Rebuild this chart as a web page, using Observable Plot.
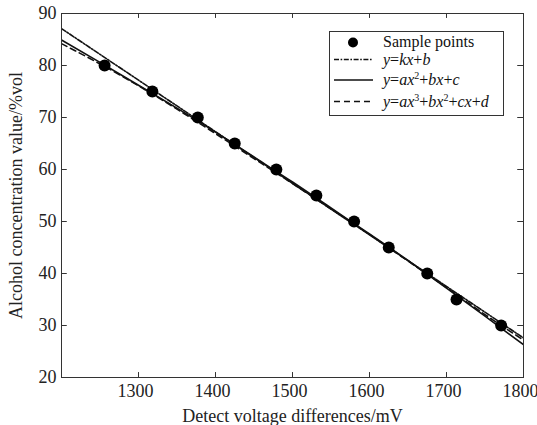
<!DOCTYPE html>
<html>
<head>
<meta charset="utf-8">
<script src="https://cdn.jsdelivr.net/npm/d3@7"></script>
<script src="https://cdn.jsdelivr.net/npm/@observablehq/plot@0.6"></script>
<style>
  html, body { margin: 0; padding: 0; background: #fff; }
  #chart { width: 537px; height: 425px; }
</style>
</head>
<body>
<div id="chart"></div>
<script>
// Sample points
const sampleX = [1256, 1318, 1377, 1425, 1479, 1531, 1580, 1625, 1675, 1713, 1771];
const sampleY = [80, 75, 70, 65, 60, 55, 50, 45, 40, 35, 30];

// Fitted curves, values
const linX = [1200, 1800];
const linY = [87.1, 27.6];

const curveX = [1200, 1250, 1300, 1350, 1400, 1450, 1500, 1550, 1600, 1650, 1700, 1750, 1800];
const quadY  = [84.9, 80.6, 76.2, 71.8, 67.2, 62.4, 57.6, 52.6, 47.6, 42.5, 37.2, 31.8, 26.3];
const cubicY = [84.2, 80.3, 76.1, 71.6, 66.9, 62.1, 57.3, 52.4, 47.5, 42.4, 37.3, 32.1, 27.2];

const xTicks = [1300, 1400, 1500, 1600, 1700, 1800];
const yTicks = [20, 30, 40, 50, 60, 70, 80, 90];

const xLabel = "Detect voltage differences/mV";
const yLabel = "Alcohol concentration value/%vol";
const legendPoints = "Sample points";
// legend formula parts: [text, kind] kind 1 = italic, 0 = upright, 2 = superscript
const legendLinear = [["y", 1], ["=", 0], ["kx", 1], ["+", 0], ["b", 1]];
const legendQuad = [["y", 1], ["=", 0], ["ax", 1], ["2", 2], ["+", 0], ["bx", 1], ["+", 0], ["c", 1]];
const legendCubic = [["y", 1], ["=", 0], ["ax", 1], ["3", 2], ["+", 0], ["bx", 1], ["2", 2], ["+", 0], ["cx", 1], ["+", 0], ["d", 1]];

const points = sampleX.map((x, i) => ({x, y: sampleY[i]}));
const lin = linX.map((x, i) => ({x, y: linY[i]}));
const quad = curveX.map((x, i) => ({x, y: quadY[i]}));
const cubic = curveX.map((x, i) => ({x, y: cubicY[i]}));

const W = 537, H = 425;
const mL = 61, mR = 14, mT = 13, mB = 48;
const FONT = "'Liberation Serif', 'Times New Roman', serif";

const chart = Plot.plot({
  width: W,
  height: H,
  marginLeft: mL,
  marginRight: mR,
  marginTop: mT,
  marginBottom: mB,
  style: {fontFamily: FONT, fontSize: "18px", color: "#222", background: "#fff", overflow: "visible"},
  x: {domain: [1200, 1800]},
  y: {domain: [20, 90]},
  marks: [
    Plot.line(lin, {x: "x", y: "y", stroke: "#111", strokeWidth: 1.6, strokeDasharray: "5,1.6,1.6,1.6", clip: true}),
    Plot.line(quad, {x: "x", y: "y", stroke: "#111", strokeWidth: 1.6, curve: "natural", clip: true}),
    Plot.line(cubic, {x: "x", y: "y", stroke: "#111", strokeWidth: 1.6, strokeDasharray: "6,4", curve: "natural", clip: true}),
    Plot.dot(points, {x: "x", y: "y", r: 6, fill: "#000", stroke: "none"}),
    // inward ticks
    Plot.ruleX(xTicks, {x: d => d, y1: 20, y2: 20.95, stroke: "#333"}),
    Plot.ruleX(xTicks, {x: d => d, y1: 90, y2: 89.05, stroke: "#333"}),
    Plot.ruleY(yTicks, {y: d => d, x1: 1200, x2: 1207.5, stroke: "#333"}),
    Plot.ruleY(yTicks, {y: d => d, x1: 1800, x2: 1792.5, stroke: "#333"}),
    Plot.axisX({ticks: xTicks, tickFormat: "d", tickSize: 0, tickPadding: 7, dx: -3, label: null, fontSize: 18}),
    Plot.axisX({ticks: [], label: xLabel, labelAnchor: "center", labelOffset: 44, labelArrow: "none", fontSize: 18}),
    Plot.axisY({ticks: yTicks, tickFormat: "d", tickSize: 0, tickPadding: 5, label: yLabel, labelAnchor: "center", labelOffset: 52, labelArrow: "none", fontSize: 18}),
    Plot.frame({stroke: "#333", strokeWidth: 1})
  ]
});

document.getElementById("chart").appendChild(chart);

// Legend drawn inside the SVG
const svg = d3.select(chart);
const g = svg.append("g")
  .attr("font-family", FONT).attr("font-size", 16).attr("fill", "#111")
  .attr("text-anchor", "start");
g.append("rect").attr("x", 329.5).attr("y", 31.5).attr("width", 174).attr("height", 84)
  .attr("fill", "#fff").attr("stroke", "#333").attr("stroke-width", 1);
g.append("circle").attr("cx", 353).attr("cy", 42.5).attr("r", 5).attr("fill", "#000");
g.append("text").attr("x", 383).attr("y", 47).text(legendPoints);

const rows = [
  {y: 59.5, dash: "5,1.6,1.6,1.6", parts: legendLinear},
  {y: 80, dash: null, parts: legendQuad},
  {y: 101.5, dash: "6,4", parts: legendCubic}
];
for (const r of rows) {
  const ln = g.append("line").attr("x1", 334).attr("x2", 373).attr("y1", r.y).attr("y2", r.y)
    .attr("stroke", "#111").attr("stroke-width", 1.6);
  if (r.dash) ln.attr("stroke-dasharray", r.dash);
  const t = g.append("text").attr("x", 383).attr("y", r.y + 5);
  let prevSup = false;
  for (const [s, kind] of r.parts) {
    const ts = t.append("tspan").text(s);
    if (kind === 1) ts.attr("font-style", "italic");
    if (kind === 2) {
      ts.attr("font-size", 10).attr("dy", prevSup ? 0 : -6);
      prevSup = true;
    } else {
      if (prevSup) ts.attr("dy", 6);
      prevSup = false;
    }
  }
}
</script>
</body>
</html>
